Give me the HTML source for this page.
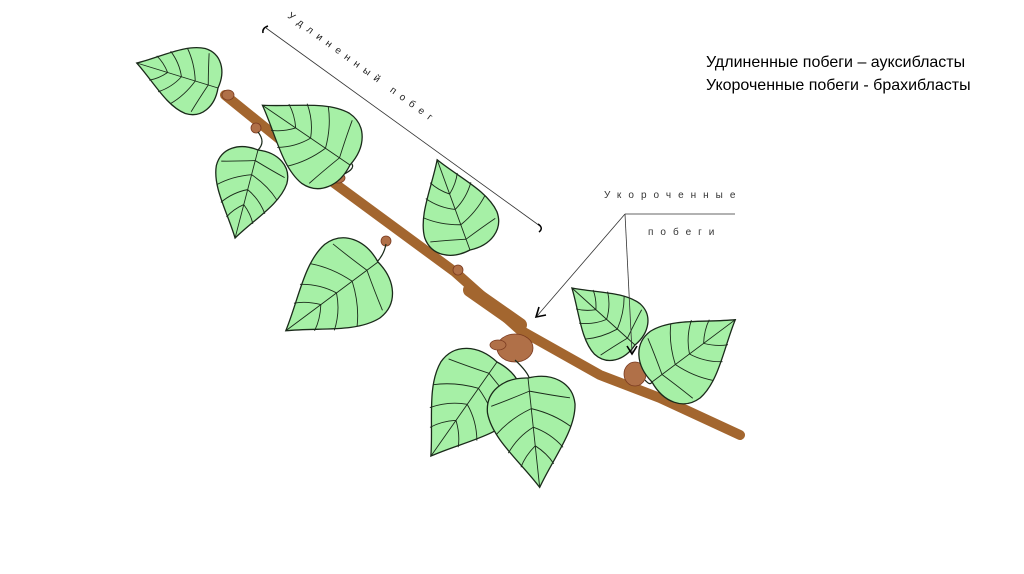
<!DOCTYPE html>
<html><head><meta charset="utf-8"><style>
body{margin:0;background:#fff;}
svg{display:block}
</style></head><body>
<svg width="1024" height="574" viewBox="0 0 1024 574" xmlns="http://www.w3.org/2000/svg">
<defs>
<g id="leaf">
<path d="M0,0 C-22,3 -40,-8 -40,-28 C-38,-52 -15,-75 0,-100 C15,-75 38,-52 40,-28 C40,-8 22,3 0,0Z" fill="#a6f0a6" stroke="#1a2a1a" stroke-width="1.3" vector-effect="non-scaling-stroke"/>
<path d="M0,0 L0,-100 M0,-12 Q-20,-18 -36,-22 M0,-28 Q-20,-35 -34,-48 M0,-45 Q-15,-52 -25,-66 M0,-62 Q-10,-70 -15,-80 M0,-12 Q20,-18 36,-22 M0,-28 Q20,-35 34,-48 M0,-45 Q15,-52 25,-66 M0,-62 Q10,-70 15,-80" fill="none" stroke="#1a2a1a" stroke-width="0.9" vector-effect="non-scaling-stroke"/>
</g>
</defs>
<!-- branch -->
<path d="M225,95 L330,180 L455,272 L520,330 L600,375 L660,398 L740,435" fill="none" stroke="#a3662f" stroke-width="10" stroke-linecap="round" stroke-linejoin="round"/>
<path d="M470,290 L520,325" stroke="#a3662f" stroke-width="14" stroke-linecap="round"/>
<!-- buds -->
<g fill="#b07048" stroke="#7a3a20" stroke-width="0.8">
<ellipse cx="228" cy="95" rx="6" ry="5"/>
<ellipse cx="256" cy="128" rx="5" ry="5"/>
<ellipse cx="338" cy="178" rx="7" ry="5"/>
<ellipse cx="386" cy="241" rx="5" ry="5"/>
<ellipse cx="458" cy="270" rx="5" ry="5"/>
<ellipse cx="515" cy="348" rx="18" ry="14"/>
<ellipse cx="498" cy="345" rx="8" ry="5"/>
<ellipse cx="635" cy="374" rx="11" ry="12"/>
</g>
<!-- stems -->
<g fill="none" stroke="#1a2a1a" stroke-width="1.2">
<path d="M342,175 Q358,168 350,162"/>
<path d="M258,132 Q266,142 258,150"/>
<path d="M386,244 Q384,255 376,263"/>
<path d="M515,360 Q528,372 530,380"/>
<path d="M645,380 Q650,386 652,382"/>
</g>
<!-- leaves -->
<use href="#leaf" transform="translate(218,88) rotate(-72.9) scale(0.85)"/>
<use href="#leaf" transform="translate(350,165) rotate(-55.7) scale(1.06)"/>
<use href="#leaf" transform="translate(258,150) rotate(-165.4) scale(0.91)"/>
<use href="#leaf" transform="translate(470,250) rotate(-20) scale(0.96)"/>
<use href="#leaf" transform="translate(378,262) rotate(-126.7) scale(1.15)"/>
<use href="#leaf" transform="translate(497,362) rotate(-144.9) scale(1.15)"/>
<use href="#leaf" transform="translate(528,378) rotate(173.9) scale(1.1)"/>
<use href="#leaf" transform="translate(635,345) rotate(-47.9) scale(0.85)"/>
<use href="#leaf" transform="translate(652,382) rotate(53.2) scale(1.04)"/>
<!-- annotations -->
<line x1="266" y1="28" x2="540" y2="226" stroke="#333" stroke-width="0.8"/>
<path d="M268,26 Q262,28 263,33" fill="none" stroke="#000" stroke-width="1.5"/>
<path d="M538,224 Q544,228 539,232" fill="none" stroke="#000" stroke-width="1.5"/>
<text transform="translate(287,17) rotate(36)" font-family="Liberation Sans, sans-serif" font-size="10" letter-spacing="6" fill="#222">Удлиненный побег</text>
<text x="604" y="198" font-family="Liberation Sans, sans-serif" font-size="10" letter-spacing="7" fill="#333">Укороченные</text>
<text x="648" y="235" font-family="Liberation Sans, sans-serif" font-size="10" letter-spacing="7" fill="#333">побеги</text>
<line x1="625" y1="214" x2="735" y2="214" stroke="#333" stroke-width="0.8"/>
<line x1="625" y1="214" x2="537" y2="316" stroke="#333" stroke-width="0.8"/>
<line x1="625" y1="214" x2="632" y2="352" stroke="#333" stroke-width="0.8"/>
<path d="M539,307 L536,317 L546,315" fill="none" stroke="#000" stroke-width="1.6"/>
<path d="M627,346 L632,354 L637,346" fill="none" stroke="#000" stroke-width="1.6"/>
<text x="706" y="67" font-family="Liberation Sans, sans-serif" font-size="16" fill="#000">Удлиненные побеги – ауксибласты</text>
<text x="706" y="90" font-family="Liberation Sans, sans-serif" font-size="16" fill="#000">Укороченные побеги - брахибласты</text>
</svg>
</body></html>
